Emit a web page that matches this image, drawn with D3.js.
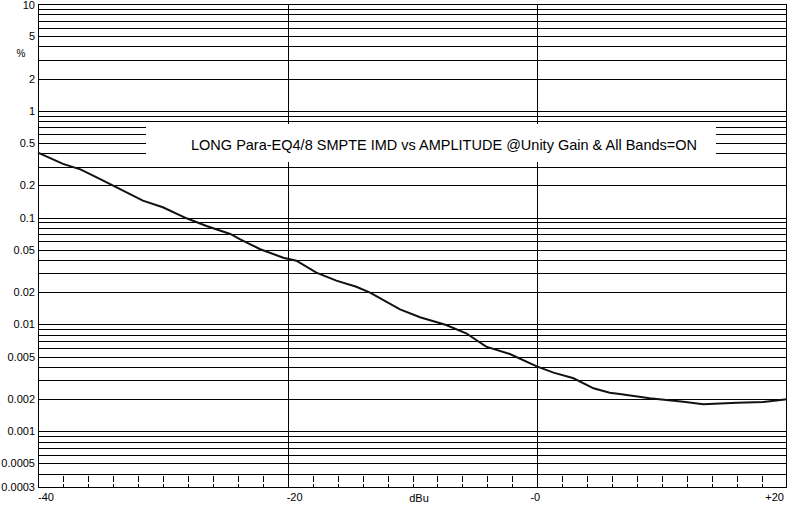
<!DOCTYPE html>
<html><head><meta charset="utf-8">
<script src="https://cdn.jsdelivr.net/npm/d3@7"></script>
<style>body{margin:0;background:#fff}svg{display:block}text{font-family:"Liberation Sans",Arial,sans-serif;fill:#000}</style>
</head><body><svg id="c" width="793" height="506"></svg>
<script>
const dbu = [-40,-38,-36.6,-35.3,-33.7,-31.6,-30,-28.1,-26.5,-24.6,-23.8,-22.2,-20.35,-19.3,-17.7,-16.1,-14.5,-13.4,-11,-9.4,-7.3,-5.7,-4.1,-2.2,0,1.3,2.9,4.5,5.8,6.6,9,11.7,13.3,16,18.1,20];
const imd = [0.405,0.318,0.283,0.238,0.192,0.144,0.125,0.0985,0.0834,0.0702,0.0626,0.0505,0.0421,0.0395,0.0305,0.0257,0.0225,0.0198,0.0138,0.01165,0.00987,0.00825,0.00618,0.00528,0.00402,0.00353,0.00313,0.00252,0.00229,0.00223,0.00203,0.00189,0.00179,0.00185,0.00188,0.00199];
const yTickValues = [10,5,2,1,0.5,0.2,0.1,0.05,0.02,0.01,0.005,0.002,0.001,0.0005,0.0003];
const yTickLabels = ["10","5","2","1","0.5","0.2","0.1","0.05","0.02","0.01","0.005","0.002","0.001","0.0005","0.0003"];
const xTickValues = [-40,-20,0,20];
const xTickLabels = ["-40","-20","-0","+20"];
const title = "LONG Para-EQ4/8 SMPTE IMD vs AMPLITUDE @Unity Gain & All Bands=ON";
const xTitle = "dBu", yTitle = "%";

const L=38,R=787,T=4,B=487;
const svg=d3.select("#c");
const x=d3.scaleLinear().domain([-40,20]).range([L,R]);
const y=d3.scaleLog().domain([0.0003,10]).range([B,T]);

// horizontal grid
const grid=[];
for(let e=-4;e<=0;e++)for(let k=1;k<=9;k++){const v=+(k*Math.pow(10,e)).toPrecision(3);if(v>0.0003&&v<10)grid.push(v);}
grid.push(10);
svg.append("g").selectAll("line").data(grid).join("line")
 .attr("x1",L).attr("x2",R).attr("y1",d=>Math.round(y(d))+0.5).attr("y2",d=>Math.round(y(d))+0.5)
 .attr("stroke","#000").attr("stroke-width",1);
// vertical grid
svg.append("g").selectAll("line").data([-20,0]).join("line")
 .attr("x1",d=>Math.round(x(d))+0.5).attr("x2",d=>Math.round(x(d))+0.5).attr("y1",T).attr("y2",B)
 .attr("stroke","#000");
// dashed minor ticks
const minor=d3.range(-38,20,2).filter(d=>d!==-20&&d!==0);
svg.append("g").selectAll("line").data(minor).join("line")
 .attr("x1",d=>Math.round(x(d))+0.5).attr("x2",d=>Math.round(x(d))+0.5).attr("y1",476).attr("y2",B)
 .attr("stroke","#000").attr("stroke-dasharray","6,2");
// border
svg.append("rect").attr("x",L+0.5).attr("y",T+0.5).attr("width",R-L-1).attr("height",B-T)
 .attr("fill","none").attr("stroke","#000");

// title box
svg.append("rect").attr("x",146).attr("y",124).attr("width",570).attr("height",38).attr("fill","#fff");
svg.append("text").attr("x",444).attr("y",150).attr("text-anchor","middle").style("font-size","14.5px")
 .attr("textLength",506).attr("lengthAdjust","spacingAndGlyphs").text(title);

// curve
svg.append("path").datum(dbu.map((d,i)=>[d,imd[i]]))
 .attr("d",d3.line().x(d=>x(d[0])).y(d=>y(d[1])))
 .attr("fill","none").attr("stroke","#111").attr("stroke-width",2);

// y labels
svg.append("g").selectAll("text").data(yTickValues).join("text")
 .attr("x",35).attr("y",d=>Math.max(y(d)+4,9)).attr("text-anchor","end").style("font-size","11px")
 .text((d,i)=>yTickLabels[i]);
svg.append("text").attr("x",21).attr("y",57).attr("text-anchor","middle").style("font-size","10px").text(yTitle);
// x labels
const anchors=["start","start","middle","end"];
svg.append("g").selectAll("text").data(xTickValues).join("text")
 .attr("x",(d,i)=>x(d)+(i===1?-1:i===2?-2:i===3?-3:0)).attr("y",501).attr("text-anchor",(d,i)=>anchors[i]).style("font-size","11px")
 .text((d,i)=>xTickLabels[i]);
svg.append("text").attr("x",419).attr("y",502).attr("text-anchor","middle").style("font-size","11px").text(xTitle);
</script></body></html>
